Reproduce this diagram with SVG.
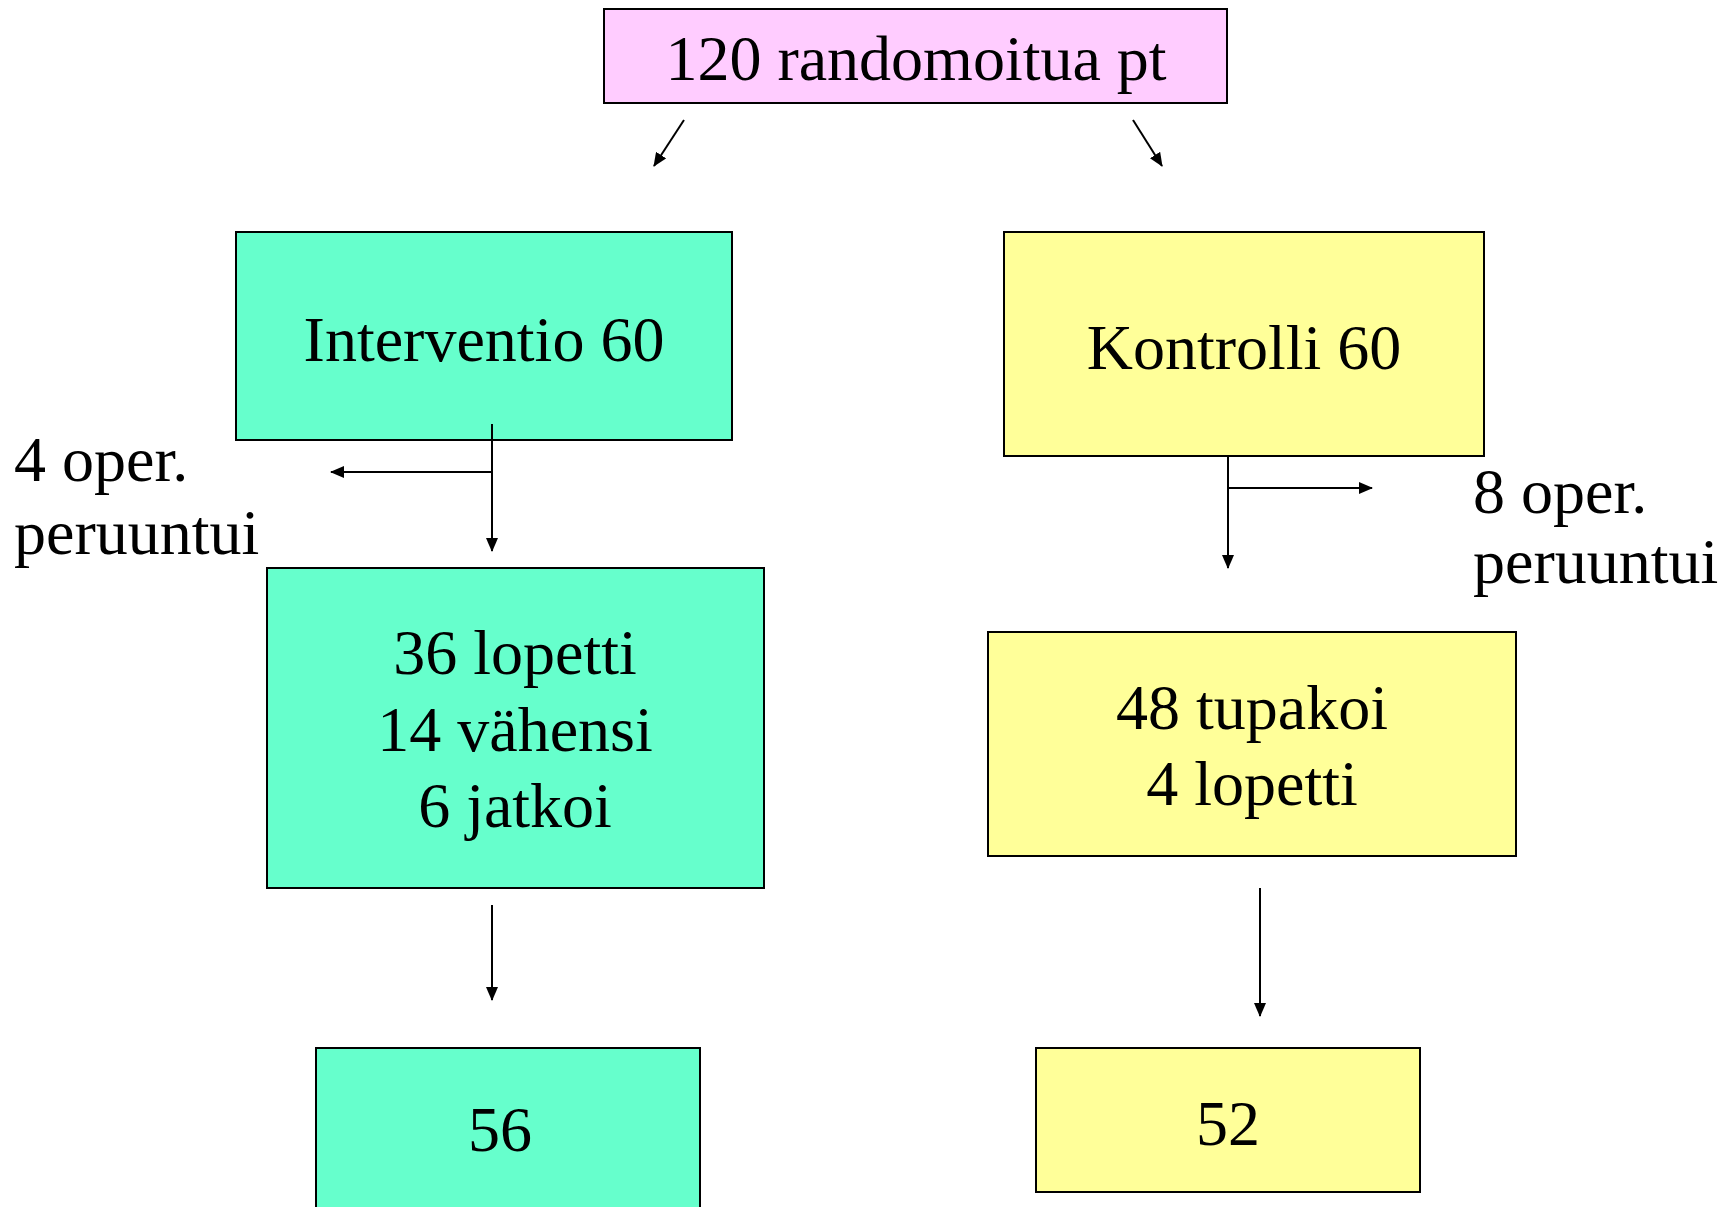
<svg xmlns="http://www.w3.org/2000/svg" width="1726" height="1207" viewBox="0 0 1726 1207">
<style>
.box{stroke:#000;stroke-width:2}
.g{fill:#66FFCC}
.y{fill:#FFFF99}
.p{fill:#FFCCFF}
text{font-family:"Liberation Serif","Times New Roman",serif;font-size:64px;fill:#000}
.c{text-anchor:middle}
.ln{stroke:#000;stroke-width:2;fill:none}
</style>
<defs>
<marker id="ah" markerUnits="userSpaceOnUse" markerWidth="14" markerHeight="12" refX="13" refY="6" orient="auto">
<path d="M0,0 L14,6 L0,12 Z" fill="#000"/>
</marker>
</defs>
<rect width="1726" height="1207" fill="#fff"/>
<g id="top">
<rect class="box p" x="604" y="9" width="623" height="94"/>
<text class="c" x="916" y="80">120 randomoitua pt</text>
</g>
<g id="interventio">
<rect class="box g" x="236" y="232" width="496" height="208"/>
<text class="c" x="484" y="361">Interventio 60</text>
</g>
<g id="kontrolli">
<rect class="box y" x="1004" y="232" width="480" height="224"/>
<text class="c" x="1244" y="369">Kontrolli 60</text>
</g>
<g id="label-left">
<text x="14" y="481">4 oper.</text>
<text x="14" y="554">peruuntui</text>
</g>
<g id="label-right">
<text x="1473" y="513">8 oper.</text>
<text x="1473" y="583">peruuntui</text>
</g>
<g id="int-result">
<rect class="box g" x="267" y="568" width="497" height="320"/>
<text class="c" x="515" y="674">36 lopetti</text>
<text class="c" x="515" y="751">14 vähensi</text>
<text class="c" x="515" y="827">6 jatkoi</text>
</g>
<g id="kon-result">
<rect class="box y" x="988" y="632" width="528" height="224"/>
<text class="c" x="1252" y="729">48 tupakoi</text>
<text class="c" x="1252" y="805">4 lopetti</text>
</g>
<g id="int-final">
<rect class="box g" x="316" y="1048" width="384" height="170"/>
<text class="c" x="500" y="1151">56</text>
</g>
<g id="kon-final">
<rect class="box y" x="1036" y="1048" width="384" height="144"/>
<text class="c" x="1228" y="1145">52</text>
</g>
<g id="connectors">
<line class="ln" x1="684" y1="120" x2="654" y2="166" marker-end="url(#ah)"/>
<line class="ln" x1="1133" y1="120" x2="1162" y2="166" marker-end="url(#ah)"/>
<line class="ln" x1="492" y1="424" x2="492" y2="551" marker-end="url(#ah)"/>
<line class="ln" x1="492" y1="472" x2="331" y2="472" marker-end="url(#ah)"/>
<line class="ln" x1="1228" y1="456" x2="1228" y2="568" marker-end="url(#ah)"/>
<line class="ln" x1="1228" y1="488" x2="1372" y2="488" marker-end="url(#ah)"/>
<line class="ln" x1="492" y1="905" x2="492" y2="1000" marker-end="url(#ah)"/>
<line class="ln" x1="1260" y1="888" x2="1260" y2="1016" marker-end="url(#ah)"/>
</g>
</svg>
